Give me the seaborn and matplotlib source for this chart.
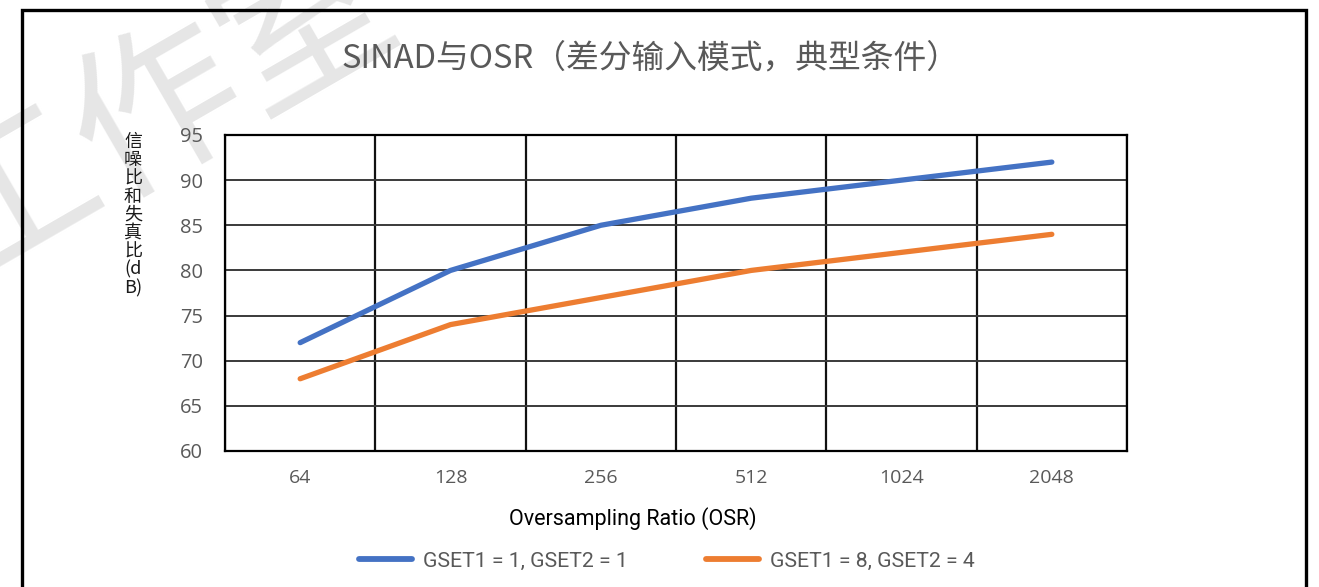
import numpy as np
import pandas as pd
import matplotlib
matplotlib.use("Agg")
import matplotlib.pyplot as plt
from matplotlib.patches import Rectangle
import seaborn as sns

# Oversampling ratios (categorical axis) and SINAD values in dB
osr_labels = ["64", "128", "256", "512", "1024", "2048"]
sinad_gset_1_1 = [72, 80, 85, 88, 90, 92]
sinad_gset_8_4 = [68, 74, 77, 80, 82, 84]
series_names = ["GSET1 = 1, GSET2 = 1", "GSET1 = 8, GSET2 = 4"]
y_ticks = [60, 65, 70, 75, 80, 85, 90, 95]

sns.set_theme(style="white")
plt.rcParams["font.family"] = ["Open Sans", "Noto Sans CJK SC", "DejaVu Sans"]

pos = np.arange(len(osr_labels))
df = pd.DataFrame({
    "pos": np.concatenate([pos, pos]),
    "sinad": sinad_gset_1_1 + sinad_gset_8_4,
    "series": [series_names[0]] * len(pos) + [series_names[1]] * len(pos),
})

W, H = 1319, 587
fig = plt.figure(figsize=(W / 100, H / 100), dpi=100)
fig.patch.set_facecolor("white")

# faint studio watermark in the upper-left corner
fig.text(160 / W, 1 - 112 / H, "工作室", fontsize=122, color="#e6e6e6",
         rotation=30, ha="center", va="center", zorder=-5,
         family=["Noto Sans CJK SC", "DejaVu Sans"])

ax = fig.add_axes([225 / W, 1 - 451 / H, (1127 - 225) / W, (451 - 135) / H])
ax.set_facecolor("white")

palette = {series_names[0]: "#4472C4", series_names[1]: "#ED7D31"}
sns.lineplot(data=df, x="pos", y="sinad", hue="series", palette=palette,
             linewidth=3.8, ax=ax, legend=True, zorder=5)
for ln in ax.lines:
    ln.set_solid_capstyle("round")

ax.set_xlim(-0.5, len(osr_labels) - 0.5)
ax.set_ylim(60, 95)
ax.set_yticks(y_ticks)
ax.set_xticks(pos)
ax.set_xticklabels(osr_labels)
ax.set_xticks(np.arange(-0.5, len(osr_labels)), minor=True)

ax.grid(False)
ax.yaxis.grid(True, which="major", color="#3a3a3a", linewidth=1.4, zorder=1)
ax.xaxis.grid(True, which="minor", color="#111111", linewidth=1.6, zorder=1)
ax.set_axisbelow(True)

for s in ax.spines.values():
    s.set_visible(True)
    s.set_color("black")
    s.set_linewidth(1.6)

ax.tick_params(axis="x", which="major", direction="in", length=4, width=1.2,
               color="black", labelsize=14, labelcolor="#595959", pad=13)
ax.tick_params(axis="x", which="minor", length=0)
ax.tick_params(axis="y", which="major", direction="in", length=5, width=1.2,
               color="black", labelsize=14.5, labelcolor="#595959", pad=16)

ax.set_xlabel("Oversampling Ratio (OSR)", fontsize=15.5, color="black",
              family=["Roboto", "DejaVu Sans"])
ax.xaxis.set_label_coords((633 - 225) / (1127 - 225), -(519 - 451) / (451 - 135))
ax.xaxis.label.set_va("center")
ax.set_ylabel("信\n噪\n比\n和\n失\n真\n比\n(d\nB)", rotation=0, fontsize=13,
              color="#1a1a1a", linespacing=1.02, va="center", ha="center",
              family=["Noto Sans CJK SC", "DejaVu Sans"])
ax.yaxis.set_label_coords((133 - 225) / (1127 - 225), (451 - 215) / (451 - 135))

fig.text(650 / W, 1 - 58 / H, "SINAD与OSR（差分输入模式，典型条件）",
         fontsize=23.6, color="#595959", ha="center", va="center",
         family=["Noto Sans CJK SC", "DejaVu Sans"], fontweight="light")

handles, labels = ax.get_legend_handles_labels()
ax.legend(handles, labels, loc="center", ncol=2, frameon=False,
          bbox_to_anchor=(667 / W, 1 - 561 / H), bbox_transform=fig.transFigure,
          handlelength=2.5, handletextpad=0.5, columnspacing=3.7,
          prop={"family": ["Roboto", "DejaVu Sans"], "size": 15.3},
          labelcolor="#595959")
for h in ax.get_legend().get_lines():
    h.set_linewidth(4.2)
    h.set_solid_capstyle("round")

# outer chart frame, open at the bottom edge
fig.patches.append(Rectangle((22 / W, -0.05), (1306 - 22) / W, 1.05 - 10 / H,
                             transform=fig.transFigure, fill=False,
                             edgecolor="black", linewidth=2.4, zorder=10))

fig.savefig("out.png", dpi=100)
